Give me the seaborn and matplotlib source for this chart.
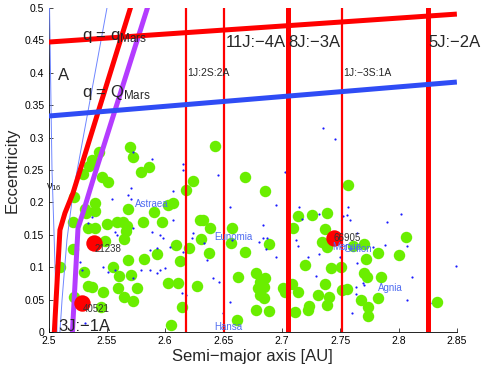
import numpy as np
import pandas as pd
import matplotlib
matplotlib.use("Agg")
import matplotlib.pyplot as plt
import seaborn as sns

# ---------------- data ----------------
green_a = [2.5432, 2.5372, 2.5347, 2.5295, 2.5458, 2.5509, 2.5698, 2.5723, 2.5792, 2.5860,
           2.6425, 2.6237, 2.6682, 2.5218, 2.6177, 2.6066, 2.6024, 2.5398, 2.5398, 2.5312,
           2.5321, 2.5681, 2.5903, 2.5210, 2.5586, 2.5638, 2.5672, 2.5663, 2.5501, 2.5809,
           2.5972, 2.5338, 2.5398, 2.5484, 2.5647, 2.6297, 2.6323, 2.6383, 2.6306, 2.6092,
           2.6203, 2.6374, 2.6571, 2.6563, 2.6682, 2.5210, 2.5929, 2.5098, 2.5681, 2.5817,
           2.6126, 2.5552, 2.5603, 2.5706, 2.5304, 2.6023, 2.6109, 2.6271, 2.6622, 2.5338,
           2.5372, 2.5595, 2.5758, 2.5467, 2.5218, 2.5647, 2.5723, 2.5449, 2.6143, 2.6614,
           2.6049, 2.7565, 2.6854, 2.7137, 2.7256, 2.7385, 2.7094, 2.7368, 2.7342, 2.7385,
           2.6888, 2.7701, 2.7608, 2.7821, 2.8061, 2.8001, 2.7719, 2.7196, 2.7419, 2.7504,
           2.7701, 2.7727, 2.7847, 2.6777, 2.6854, 2.6811, 2.6794, 2.6845, 2.6811, 2.6845,
           2.7008, 2.7025, 2.7085, 2.7136, 2.7368, 2.7308, 2.7402, 2.7385, 2.7230, 2.7222,
           2.7513, 2.7556, 2.7110, 2.6888, 2.6777, 2.7676, 2.7736, 2.7736, 2.7821, 2.8326]
green_e = [0.2778, 0.2654, 0.2562, 0.2438, 0.2392, 0.2315, 0.2855, 0.2700, 0.2469, 0.2546,
           0.2870, 0.2330, 0.2392, 0.2083, 0.2191, 0.1991, 0.1960, 0.1991, 0.1867, 0.1898,
           0.1836, 0.1898, 0.1852, 0.1697, 0.1697, 0.1697, 0.1636, 0.1558, 0.1666, 0.1697,
           0.1697, 0.1605, 0.1605, 0.1404, 0.1435, 0.1728, 0.1728, 0.1605, 0.1435, 0.1342,
           0.1296, 0.1219, 0.1605, 0.1373, 0.1234, 0.1281, 0.1204, 0.1003, 0.1111, 0.1126,
           0.1096, 0.1003, 0.0864, 0.0880, 0.0926, 0.0756, 0.0756, 0.0710, 0.0849, 0.0710,
           0.0694, 0.0679, 0.0679, 0.0617, 0.0540, 0.0540, 0.0478, 0.0386, 0.0386, 0.0185,
           0.0108, 0.2268, 0.2176, 0.1790, 0.1805, 0.1836, 0.1605, 0.1589, 0.1389, 0.1312,
           0.1358, 0.1358, 0.1327, 0.1219, 0.1466, 0.1188, 0.1126, 0.1034, 0.0988, 0.1003,
           0.0910, 0.0849, 0.0849, 0.0910, 0.0833, 0.0772, 0.0679, 0.0694, 0.0571, 0.0525,
           0.0679, 0.0617, 0.0741, 0.0617, 0.0741, 0.0571, 0.0540, 0.0417, 0.0401, 0.0339,
           0.0648, 0.0664, 0.0309, 0.0330, 0.0339, 0.0494, 0.0386, 0.0247, 0.0525, 0.0463]

dot_a = [2.5706, 2.5681, 2.5706, 2.5544, 2.5372, 2.5338, 2.5569, 2.5586, 2.5270, 2.5723,
         2.5886, 2.5954, 2.5980, 2.6040, 2.6151, 2.5869, 2.5929, 2.6066, 2.6237, 2.6228,
         2.6331, 2.6357, 2.5954, 2.5997, 2.5929, 2.5869, 2.5792, 2.5569, 2.5509, 2.5467,
         2.5270, 2.5287, 2.5723, 2.6409, 2.6460, 2.6554, 2.6494, 2.6143, 2.6177, 2.6554,
         2.6451, 2.6151, 2.5886, 2.5723, 2.6571, 2.5312, 2.6151, 2.6066, 2.7453, 2.7350,
         2.7025, 2.6948, 2.7145, 2.7170, 2.7119, 2.7136, 2.7316, 2.7565, 2.7581, 2.7556,
         2.6837, 2.6837, 2.6871, 2.6802, 2.6862, 2.6948, 2.7222, 2.7316, 2.7495, 2.7290,
         2.7632, 2.7632, 2.7598, 2.7692, 2.7778, 2.7881, 2.7898, 2.8018, 2.8070, 2.8113,
         2.8070, 2.8266, 2.8489, 2.7641, 2.7521, 2.7641, 2.7701]
dot_e = [0.2222, 0.2114, 0.2052, 0.2052, 0.1775, 0.1682, 0.1543, 0.1497, 0.1682, 0.1605,
         0.1543, 0.1497, 0.1450, 0.1312, 0.1234, 0.1265, 0.1296, 0.1728, 0.1528, 0.1450,
         0.1373, 0.1111, 0.0957, 0.0988, 0.0910, 0.0957, 0.0957, 0.0957, 0.0926, 0.1003,
         0.1080, 0.0957, 0.0833, 0.0833, 0.0772, 0.0463, 0.0293, 0.0602, 0.0571, 0.1929,
         0.2423, 0.2500, 0.2670, 0.2778, 0.1420, 0.0139, 0.2593, 0.2176, 0.2978, 0.3148,
         0.2469, 0.1960, 0.1929, 0.1744, 0.1420, 0.1327, 0.1821, 0.1929, 0.1728, 0.1805,
         0.1651, 0.1450, 0.1450, 0.1389, 0.1281, 0.1157, 0.1157, 0.1204, 0.1157, 0.0864,
         0.0694, 0.0586, 0.0293, 0.0756, 0.1312, 0.1342, 0.1697, 0.1821, 0.1327, 0.0849,
         0.0494, 0.0448, 0.1018, 0.1528, 0.1790, 0.1065, 0.0725]

red_names = ["21238", "40521", "66905"]
red_a = [2.5390, 2.5287, 2.7443]
red_e = [0.1373, 0.0447, 0.1450]

# curves
qmars_a = [2.50, 2.85]
qmars_e = [0.4475, 0.4907]
Qmars_a = [2.50, 2.85]
Qmars_e = [0.3333, 0.3858]
res31_a = [2.5050, 2.5098, 2.5141, 2.5210, 2.5723]
res31_e = [0.0, 0.1574, 0.1836, 0.2145, 0.5123]
purple_a = [2.5205, 2.5253, 2.5295, 2.5381, 2.5869]
purple_e = [0.0, 0.1605, 0.1836, 0.2345, 0.5123]
nu16a_a = [2.5009, 2.5030, 2.5047, 2.5073]
nu16a_e = [0.50, 0.25, 0.154, 0.0]
nu16b_a = [2.5501, 2.5210, 2.5158, 2.5116, 2.5098]
nu16b_e = [0.50, 0.2145, 0.1420, 0.0494, 0.0]

res_lines_a = [2.6177, 2.6500, 2.7053, 2.7516, 2.8249]
big_labels = ["11J:\u22124A", "8J:\u22123A", "5J:\u22122A"]
big_labels_a = [2.6519, 2.7058, 2.8254]
small_labels = ["1J:2S:2A", "1J:\u22123S:1A"]
small_labels_a = [2.6190, 2.7530]

family_names = ["Astraea", "Eunomia", "Hansa", "Merxia", "Gefion", "Agnia"]
family_a = [2.5741, 2.6417, 2.6417, 2.7435, 2.7529, 2.7821]
family_e = [0.1970, 0.1470, 0.0082, 0.1317, 0.1276, 0.0674]

xticks = [2.5, 2.55, 2.6, 2.65, 2.7, 2.75, 2.8, 2.85]
xticklabels = ["2.5", "2.55", "2.6", "2.65", "2.7", "2.75", "2.8", "2.85"]
yticks = [0, 0.05, 0.1, 0.15, 0.2, 0.25, 0.3, 0.35, 0.4, 0.45, 0.5]
yticklabels = ["0", "0.05", "0.1", "0.15", "0.2", "0.25", "0.3", "0.35", "0.4", "0.45", "0.5"]

# ---------------- style ----------------
sns.set_style("white")
plt.rcParams["font.family"] = ["Liberation Sans", "DejaVu Sans"]
plt.rcParams["mathtext.fontset"] = "custom"
plt.rcParams["mathtext.rm"] = "Liberation Sans"
plt.rcParams["mathtext.it"] = "Liberation Sans"

GREEN = "#6aee00"
RED = "#ff0000"
PURPLE = "#b43cff"
BLUE = "#2f4cf5"
THIN_BLUE = "#6f86ff"
LABEL_BLUE = "#4f6cf0"

fig = plt.figure(figsize=(4.85, 3.66), dpi=100)
ax = fig.add_axes([0.100, 0.093, 0.842, 0.885])

green_df = pd.DataFrame({"a": green_a, "e": green_e})
dot_df = pd.DataFrame({"a": dot_a, "e": dot_e})
red_df = pd.DataFrame({"a": red_a, "e": red_e})

sns.scatterplot(data=green_df, x="a", y="e", ax=ax, color=GREEN, s=68,
                linewidth=0, zorder=2)
sns.scatterplot(data=dot_df, x="a", y="e", ax=ax, color="#1a1aff", s=2.5,
                linewidth=0, zorder=2.5)

# thin nu16 lines
ax.plot(nu16a_a, nu16a_e, color=THIN_BLUE, lw=0.7, zorder=3)
ax.plot(nu16b_a, nu16b_e, color=THIN_BLUE, lw=0.7, zorder=3)

# vertical resonance lines
res_widths = [1.6, 1.6, 3.6, 1.6, 3.6]
for x, w in zip(res_lines_a, res_widths):
    ax.axvline(x, color=RED, lw=w, zorder=3)

ax.plot(res31_a, res31_e, color=RED, lw=3.6, zorder=3, solid_joinstyle="miter")
ax.plot(purple_a, purple_e, color=PURPLE, lw=3.6, zorder=3)
ax.plot(qmars_a, qmars_e, color=RED, lw=3.6, zorder=3.2, solid_capstyle="butt")
ax.plot(Qmars_a, Qmars_e, color=BLUE, lw=3.6, zorder=3.2, solid_capstyle="butt")

sns.scatterplot(data=red_df, x="a", y="e", ax=ax, color=RED, s=140,
                linewidth=0, zorder=4)

# labels
for name, x, y in zip(red_names, red_a, red_e):
    ax.text(x + 0.0003, y - 0.010 if name != "66905" else y, name, fontsize=7,
            color="#333333", ha="left", va="center", zorder=5)

for name, x, y in zip(family_names, family_a, family_e):
    ax.text(x, y, name, fontsize=7, color=LABEL_BLUE, ha="left", va="center", zorder=5)

for lab, x in zip(big_labels, big_labels_a):
    ax.text(x, 0.4405, lab, fontsize=12, ha="left", va="baseline", zorder=5)
for lab, x in zip(small_labels, small_labels_a):
    ax.text(x, 0.3945, lab, fontsize=7.5, ha="left", va="baseline", zorder=5)

ax.text(2.5084, 0.389, "A", fontsize=12, ha="left", va="baseline", zorder=5)
ax.text(2.5284, 0.451, r"q = q$_{\mathrm{Mars}}$", fontsize=12, ha="left",
        va="baseline", zorder=5)
ax.text(2.5284, 0.3622, r"q = Q$_{\mathrm{Mars}}$", fontsize=12, ha="left",
        va="baseline", zorder=5)
ax.text(2.5081, 0.002, "3J:\u22121A", fontsize=12, ha="left", va="baseline", zorder=5)
ax.text(2.4982, 0.224, r"$\nu_{16}$", fontsize=8, ha="left", va="center", zorder=5,
        color="#222222")

# axes
ax.set_xlim(2.5, 2.85)
ax.set_ylim(0, 0.5)
ax.set_xticks(xticks)
ax.set_xticklabels(xticklabels)
ax.set_yticks(yticks)
ax.set_yticklabels(yticklabels)
ax.tick_params(direction="in", length=3, width=0.5, labelsize=7.5, pad=3,
               bottom=True, left=True, colors="black")
for side in ["top", "right"]:
    ax.spines[side].set_visible(False)
for side in ["left", "bottom"]:
    ax.spines[side].set_color("black")
    ax.spines[side].set_linewidth(0.6)
ax.set_xlabel("Semi\u2212major axis [AU]", fontsize=12, labelpad=2)
ax.set_ylabel("Eccentricity", fontsize=12, labelpad=3)

fig.savefig("out.png", dpi=100)
